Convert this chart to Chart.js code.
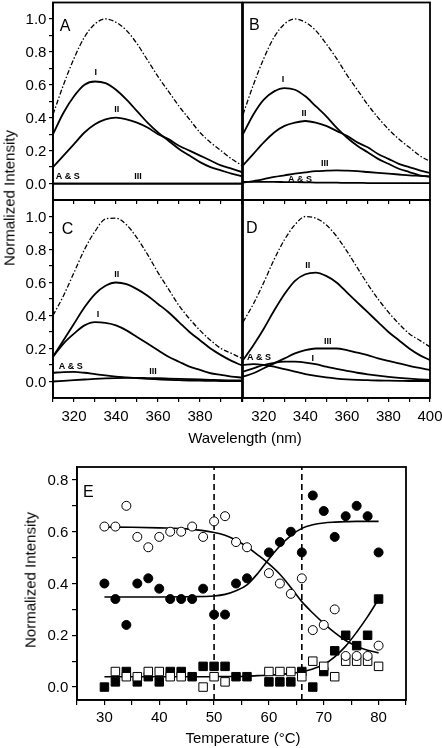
<!DOCTYPE html>
<html>
<head>
<meta charset="utf-8">
<script src="https://cdn.jsdelivr.net/npm/chart.js@4.4.0/dist/chart.umd.min.js"></script>
<style>
  body { margin: 0; background: #fff; width: 442px; height: 748px; position: relative; overflow: hidden;
         font-family: "Liberation Sans", Arial, sans-serif; }
  canvas { position: absolute; }
  .t { position: absolute; font-size: 15px; color: #000; white-space: nowrap; line-height: 1; }
</style>
</head>
<body>
<canvas id="pA" width="245" height="212" style="left:0;top:0"></canvas>
<canvas id="pB" width="202" height="212" style="left:240px;top:0"></canvas>
<canvas id="pC" width="245" height="235" style="left:0;top:195px"></canvas>
<canvas id="pD" width="202" height="235" style="left:240px;top:195px"></canvas>
<canvas id="pE" width="442" height="308" style="left:0;top:440px"></canvas>

<div class="t" style="left:9px;top:198px;transform:translate(-50%,-50%) rotate(-90deg)">Normalized Intensity</div>
<div class="t" style="left:245px;top:437px;transform:translate(-50%,-50%)">Wavelength (nm)</div>
<div class="t" style="left:30px;top:580px;transform:translate(-50%,-50%) rotate(-90deg)">Normalized Intensity</div>
<div class="t" style="left:243px;top:737px;transform:translate(-50%,-50%)">Temperature (°C)</div>

<script>
const FONT = '"Liberation Sans", Arial, sans-serif';

// wavelength grid for the spectra (nm)
const wl = [310, 315, 320, 325, 330, 335, 340, 345, 350, 355, 360, 365, 370, 375, 380, 385, 390, 395, 400];
const wlTicks = [310, 320, 330, 340, 350, 360, 370, 380, 390, 400];
const wlLabels = [320, 340, 360, 380];
const wlLabelsLast = [320, 340, 360, 380, 400];
const intTicks = [0, 0.1, 0.2, 0.3, 0.4, 0.5, 0.6, 0.7, 0.8, 0.9, 1.0];
const intLabels = [0, 0.2, 0.4, 0.6, 0.8, 1.0];

// panel A
const aTotal = [0.42, 0.60, 0.76, 0.89, 0.97, 1.00, 0.98, 0.93, 0.85, 0.75, 0.65, 0.56, 0.47, 0.39, 0.31, 0.25, 0.20, 0.15, 0.11];
const aI     = [0.30, 0.43, 0.53, 0.60, 0.62, 0.61, 0.57, 0.51, 0.44, 0.37, 0.31, 0.26, 0.21, 0.17, 0.13, 0.10, 0.08, 0.06, 0.044];
const aII    = [0.10, 0.17, 0.24, 0.31, 0.36, 0.39, 0.40, 0.39, 0.37, 0.34, 0.30, 0.27, 0.23, 0.20, 0.17, 0.14, 0.11, 0.09, 0.07];
const aIII   = [0, 0, 0, 0, 0, 0, 0, 0, 0, 0, 0, 0, 0, 0, 0, 0, 0, 0, 0];
const aAS    = [0, 0, 0, 0, 0, 0, 0, 0, 0, 0, 0, 0, 0, 0, 0, 0, 0, 0, 0];

// panel B
const bTotal = [0.42, 0.60, 0.76, 0.89, 0.97, 1.00, 0.98, 0.93, 0.85, 0.76, 0.66, 0.57, 0.48, 0.40, 0.33, 0.27, 0.22, 0.17, 0.135];
const bI     = [0.30, 0.42, 0.51, 0.56, 0.58, 0.57, 0.53, 0.47, 0.41, 0.34, 0.28, 0.23, 0.19, 0.15, 0.12, 0.09, 0.07, 0.05, 0.04];
const bII    = [0.11, 0.18, 0.25, 0.31, 0.35, 0.37, 0.38, 0.37, 0.35, 0.32, 0.29, 0.25, 0.22, 0.18, 0.15, 0.12, 0.10, 0.08, 0.065];
const bIII   = [0.005, 0.015, 0.027, 0.04, 0.05, 0.06, 0.068, 0.075, 0.078, 0.08, 0.078, 0.075, 0.07, 0.065, 0.06, 0.055, 0.05, 0.047, 0.044];
const bAS    = [0.01, 0.01, 0.01, 0.01, 0.009, 0.008, 0.007, 0.006, 0.005, 0.005, 0.004, 0.004, 0.003, 0.003, 0.003, 0.003, 0.002, 0.002, 0.002];

// panel C
const cTotal = [0.40, 0.52, 0.66, 0.80, 0.91, 0.985, 0.99, 0.95, 0.87, 0.77, 0.66, 0.56, 0.46, 0.38, 0.31, 0.25, 0.20, 0.17, 0.14];
const cI     = [0.15, 0.23, 0.29, 0.34, 0.36, 0.355, 0.34, 0.31, 0.27, 0.23, 0.19, 0.15, 0.12, 0.09, 0.07, 0.05, 0.04, 0.03, 0.024];
const cII    = [0.15, 0.25, 0.35, 0.45, 0.53, 0.58, 0.60, 0.59, 0.56, 0.52, 0.47, 0.42, 0.36, 0.30, 0.25, 0.20, 0.16, 0.125, 0.097];
const cIII   = [0.0, 0.004, 0.008, 0.012, 0.016, 0.019, 0.021, 0.022, 0.022, 0.021, 0.02, 0.018, 0.016, 0.014, 0.012, 0.01, 0.008, 0.007, 0.006];
const cAS    = [0.053, 0.057, 0.058, 0.053, 0.045, 0.037, 0.03, 0.025, 0.02, 0.016, 0.013, 0.01, 0.008, 0.006, 0.005, 0.004, 0.003, 0.002, 0.002];

// panel D
const dTotal = [0.36, 0.47, 0.60, 0.74, 0.86, 0.95, 1.00, 0.99, 0.95, 0.88, 0.79, 0.69, 0.59, 0.50, 0.42, 0.35, 0.29, 0.25, 0.21];
const dI     = [0.06, 0.08, 0.10, 0.113, 0.12, 0.12, 0.115, 0.105, 0.09, 0.077, 0.065, 0.053, 0.043, 0.035, 0.028, 0.022, 0.017, 0.013, 0.01];
const dII    = [0.13, 0.22, 0.32, 0.43, 0.53, 0.61, 0.65, 0.66, 0.64, 0.60, 0.54, 0.48, 0.42, 0.36, 0.30, 0.25, 0.20, 0.16, 0.13];
const dIII   = [0.03, 0.05, 0.08, 0.11, 0.14, 0.17, 0.19, 0.20, 0.20, 0.20, 0.19, 0.175, 0.16, 0.14, 0.125, 0.11, 0.095, 0.082, 0.07];
const dAS    = [0.10, 0.105, 0.10, 0.09, 0.075, 0.06, 0.045, 0.034, 0.025, 0.018, 0.013, 0.01, 0.008, 0.006, 0.005, 0.004, 0.003, 0.003, 0.003];

// curve labels (wavelength, intensity)
const aNotes = [{ t: 'I', x: 330.4, y: 0.673 }, { t: 'II', x: 340.4, y: 0.448 }, { t: 'A & S', x: 317, y: 0.042 }, { t: 'III', x: 350.5, y: 0.042 }];
const bNotes = [{ t: 'I', x: 329.2, y: 0.63 }, { t: 'II', x: 339.3, y: 0.424 }, { t: 'III', x: 349.4, y: 0.121 }, { t: 'A & S', x: 337.4, y: 0.024 }];
const cNotes = [{ t: 'II', x: 340.4, y: 0.648 }, { t: 'I', x: 331.4, y: 0.405 }, { t: 'A & S', x: 318.5, y: 0.089 }, { t: 'III', x: 357.6, y: 0.059 }];
const dNotes = [{ t: 'II', x: 341.2, y: 0.703 }, { t: 'III', x: 350.8, y: 0.242 }, { t: 'I', x: 343.6, y: 0.138 }, { t: 'A & S', x: 317.7, y: 0.144 }];

// panel E: temperature series
const temps = [30, 32, 34, 36, 38, 40, 42, 44, 46, 48, 50, 52, 54, 56, 58, 60, 62, 64, 66, 68, 70, 72, 74, 76, 78, 80];
const openCircle   = [0.62, 0.62, 0.70, 0.58, 0.54, 0.58, 0.60, 0.60, 0.62, 0.58, 0.64, 0.66, 0.56, 0.54, null, 0.44, 0.40, 0.36, 0.42, 0.22, 0.24, 0.30, 0.12, 0.12, 0.12, 0.16];
const filledCircle = [0.40, 0.34, 0.24, 0.40, 0.42, 0.38, 0.34, 0.34, 0.34, 0.38, 0.28, 0.28, 0.40, 0.42, null, 0.52, 0.56, 0.60, 0.52, 0.74, 0.68, 0.58, 0.66, 0.70, 0.66, 0.52];
const filledSquare = [0.00, 0.02, 0.06, 0.02, 0.04, 0.02, 0.06, 0.06, 0.04, 0.08, 0.08, 0.08, 0.04, 0.04, null, 0.02, 0.02, 0.02, 0.06, 0.00, 0.06, 0.14, 0.20, 0.16, 0.20, 0.34];
const openSquare   = [null, 0.06, 0.04, 0.04, 0.06, 0.06, 0.04, 0.04, null, 0.00, 0.04, 0.02, null, null, null, 0.06, 0.06, 0.06, 0.04, 0.10, 0.08, 0.04, 0.10, 0.10, 0.10, 0.08];

const fitT      = [30, 35, 40, 45, 50, 52, 54, 56, 58, 60, 62, 64, 66, 68, 70, 72, 74, 76, 78, 80];
const fitOpen   = [0.618, 0.617, 0.615, 0.611, 0.597, 0.586, 0.567, 0.542, 0.51, 0.476, 0.436, 0.385, 0.33, 0.286, 0.246, 0.21, 0.18, 0.158, 0.142, 0.132];
const fitFilled = [0.348, 0.348, 0.348, 0.349, 0.352, 0.358, 0.372, 0.395, 0.44, 0.495, 0.545, 0.585, 0.613, 0.627, 0.634, 0.637, 0.639, 0.64, 0.64, 0.64];
const fitSquare = [0.04, 0.04, 0.04, 0.04, 0.04, 0.041, 0.041, 0.042, 0.044, 0.046, 0.049, 0.053, 0.059, 0.07, 0.087, 0.117, 0.158, 0.212, 0.272, 0.34];
const transitions = [50, 66];

const tTicks = [25, 30, 35, 40, 45, 50, 55, 60, 65, 70, 75, 80, 85];
const tLabels = [30, 40, 50, 60, 70, 80];
const eTicks = [0, 0.1, 0.2, 0.3, 0.4, 0.5, 0.6, 0.7, 0.8];
const eLabels = [0, 0.2, 0.4, 0.6, 0.8];

// frame, tick labels, panel letter and curve labels
const decor = {
  id: 'decor',
  afterDraw(chart, args, o) {
    const { ctx, chartArea: a, scales } = chart;
    ctx.save();
    ctx.strokeStyle = '#000';
    ctx.lineWidth = 1.8;
    ctx.strokeRect(a.left, a.top, a.right - a.left, a.bottom - a.top);
    ctx.fillStyle = '#000';

    ctx.font = '15px ' + FONT;
    ctx.textBaseline = 'alphabetic';
    ctx.textAlign = 'center';
    (o.xLabels || []).forEach(v => ctx.fillText(String(v), scales.x.getPixelForValue(v), a.bottom + o.xOff));
    ctx.textAlign = 'right';
    (o.yLabels || []).forEach(v => ctx.fillText(v.toFixed(1), a.left - o.yOff, scales.y.getPixelForValue(v) + 5.2));

    ctx.font = '16px ' + FONT;
    ctx.textAlign = 'left';
    ctx.fillText(o.letter, a.left + o.lx, a.top + o.ly);

    ctx.font = 'bold 9px ' + FONT;
    ctx.textAlign = 'center';
    ctx.textBaseline = 'middle';
    (o.notes || []).forEach(n => {
      ctx.fillText(n.t, scales.x.getPixelForValue(n.x), scales.y.getPixelForValue(n.y));
    });
    ctx.restore();
  }
};

function axis(min, max, tickVals, len, fitFn) {
  const ax = {
    type: 'linear', min, max,
    grid: { drawOnChartArea: false, drawTicks: true, tickLength: len, color: '#000', lineWidth: 1.2 },
    border: { color: '#000', width: 1.6 },
    ticks: { display: false, autoSkip: false },
    afterBuildTicks: sc => { sc.ticks = tickVals.map(v => ({ value: v })); }
  };
  if (fitFn) ax.afterFit = fitFn;
  return ax;
}

function spectrumPanel(id, s, p) {
  const pts = vals => wl.map((x, i) => ({ x, y: vals[i] }));
  const solid = { borderColor: '#000', borderWidth: 1.8, pointRadius: 0, cubicInterpolationMode: 'monotone', fill: false };
  const y = axis(-0.1, 1.1, intTicks, 4, p.yShow ? (sc => { sc.width = 53; }) : null);
  y.display = p.yShow;
  new Chart(document.getElementById(id), {
    type: 'line',
    data: {
      datasets: [
        { ...solid, data: pts(s.total), borderWidth: 1.3, borderDash: [5, 2, 1.5, 2] },
        { ...solid, data: pts(s.I) },
        { ...solid, data: pts(s.II) },
        { ...solid, data: pts(s.III) },
        { ...solid, data: pts(s.AS) }
      ]
    },
    options: {
      responsive: false,
      animation: false,
      events: [],
      layout: { padding: { left: p.padL, right: p.padR, top: p.padT, bottom: 0 } },
      plugins: {
        legend: { display: false },
        tooltip: { enabled: false },
        decor: {
          letter: p.letter, lx: p.lx, ly: p.ly, notes: p.notes,
          xLabels: p.xLabels, xOff: 22.5, yLabels: p.yShow ? intLabels : [], yOff: 6.6
        }
      },
      scales: {
        x: axis(310, 400, wlTicks, 4, sc => { sc.height = p.xH; }),
        y
      }
    },
    plugins: [decor]
  });
}

spectrumPanel('pA', { total: aTotal, I: aI, II: aII, III: aIII, AS: aAS },
  { letter: 'A', lx: 6.7, ly: 28.5, notes: aNotes, padL: 0, padR: 3, padT: 2.5, xH: 12, xLabels: [], yShow: true });
spectrumPanel('pB', { total: bTotal, I: bI, II: bII, III: bIII, AS: bAS },
  { letter: 'B', lx: 6, ly: 27.5, notes: bNotes, padL: 3, padR: 12, padT: 2.5, xH: 12, xLabels: [], yShow: false });
spectrumPanel('pC', { total: cTotal, I: cI, II: cII, III: cIII, AS: cAS },
  { letter: 'C', lx: 8.7, ly: 34, notes: cNotes, padL: 0, padR: 3, padT: 5, xH: 32, xLabels: wlLabels, yShow: true });
spectrumPanel('pD', { total: dTotal, I: dI, II: dII, III: dIII, AS: dAS },
  { letter: 'D', lx: 3, ly: 33, notes: dNotes, padL: 3, padR: 12, padT: 5, xH: 32, xLabels: wlLabelsLast, yShow: false });

// panel E
const series = (xs, ys) => xs.map((x, i) => ({ x, y: ys[i] })).filter(p => p.y !== null);
const marker = { showLine: false, borderColor: '#000', pointBorderColor: '#000', pointBorderWidth: 1 };
const fitLine = { borderColor: '#000', borderWidth: 1.6, pointRadius: 0, cubicInterpolationMode: 'monotone', fill: false };

const eSets = [
  { ...marker, data: series(temps, openCircle), pointStyle: 'circle', pointRadius: 4.5, pointBackgroundColor: '#fff' },
  { ...marker, data: series(temps, filledCircle), pointStyle: 'circle', pointRadius: 4.5, pointBackgroundColor: '#000' },
  { ...marker, data: series(temps, openSquare), pointStyle: 'rect', pointRadius: 6, pointBackgroundColor: '#fff' },
  { ...marker, data: series(temps, filledSquare), pointStyle: 'rect', pointRadius: 6, pointBackgroundColor: '#000' },
  { ...fitLine, data: series(fitT, fitOpen) },
  { ...fitLine, data: series(fitT, fitFilled) },
  { ...fitLine, data: series(fitT, fitSquare) }
];
transitions.forEach(t => {
  eSets.push({ borderColor: '#000', borderWidth: 1.6, borderDash: [6, 4], pointRadius: 0, fill: false,
    data: [{ x: t, y: -0.05 }, { x: t, y: 0.85 }] });
});

new Chart(document.getElementById('pE'), {
  type: 'line',
  data: { datasets: eSets },
  options: {
    responsive: false,
    animation: false,
    events: [],
    layout: { padding: { left: 0, right: 36, top: 27, bottom: 0 } },
    plugins: {
      legend: { display: false },
      tooltip: { enabled: false },
      decor: { letter: 'E', lx: 6, ly: 30, notes: [], xLabels: tLabels, xOff: 21.7, yLabels: eLabels, yOff: 8.7 }
    },
    scales: {
      x: axis(25, 85, tTicks, 5, sc => { sc.height = 48; }),
      y: axis(-0.05, 0.85, eTicks, 5, sc => { sc.width = 77; })
    }
  },
  plugins: [decor]
});
</script>
</body>
</html>
